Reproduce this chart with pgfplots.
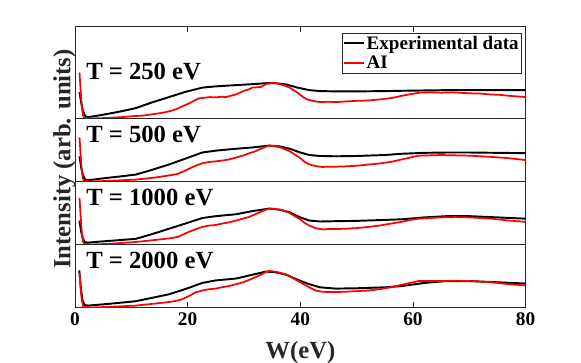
\documentclass[border=0pt]{standalone}
\usepackage{pgfplots}
\pgfplotsset{compat=1.18}
\usepackage{fontspec}
\setmainfont{Liberation Serif}
\definecolor{axgray}{RGB}{38,38,38}
\pgfplotsset{
  panel/.style={
    scale only axis, width=338pt, height=47.25pt,
    xmin=0, xmax=80, ymin=0, ymax=1,
    ytick=\empty, xtick=\empty,
    axis line style={axgray, line width=0.6pt},
    tick style={axgray, line width=0.5pt},
    major tick length=4pt,
    tick align=inside,
    anchor=south west,
    /pgf/number format/assume math mode=true,
    ticklabel style={font=\fontsize{14.5}{16}\selectfont\bfseries},
  },
  exp/.style={black, line width=1.45pt, line join=round},
  ai/.style={red, line width=1.3pt, line join=round},
}
\newcommand{\tlab}[1]{\node[anchor=base west, inner sep=0pt, font=\fontsize{18.5}{20}\selectfont\bfseries] at (axis cs:1.95,0.62) {#1};}
\begin{document}
\begin{tikzpicture}
% panel 1
\begin{axis}[panel, at={(56.25pt,183.375pt)}, height=69pt, ymax=1.46,
  xtick={0,20,40,60,80}, xtick pos=upper, xticklabels={},
  legend style={at={(0.9915,0.9326)}, anchor=north east, draw=axgray, line width=0.5pt,
    font=\fontsize{14.3}{16.5}\selectfont\bfseries, inner xsep=1pt, inner ysep=1pt,
    row sep=1.2pt, nodes={inner sep=1.1pt}},
  legend cell align=left,
  legend image code/.code={\draw[#1] (0pt,0pt) -- (15pt,0pt);},
]
\addplot[exp] coordinates {(0.8,0.42) (1.1,0.25) (1.4,0.12) (1.8,0.04) (2.3,0.02) (3,0.03) (5,0.06) (8,0.11) (10.8,0.165) (13.5,0.25) (16.7,0.34) (19.5,0.42) (22.6,0.49) (25,0.51) (28.6,0.53) (31.5,0.545) (33.9,0.56) (35.5,0.56) (37.5,0.54) (39.5,0.49) (41.6,0.45) (43.5,0.435) (46.3,0.43) (50,0.43) (55,0.435) (58.2,0.44) (62,0.445) (66,0.45) (70,0.45) (75,0.45) (80,0.45)};
\addlegendentry{Experimental data}
\addplot[ai] coordinates {(0.8,0.73) (1.0,0.45) (1.2,0.2) (1.4,0.06) (1.6,0.01) (3,0.0) (6,0.01) (8,0.02) (10.8,0.04) (12,0.045) (14,0.07) (15.5,0.09) (17,0.12) (18,0.15) (19,0.19) (20.5,0.25) (21.3,0.29) (22,0.32) (23,0.33) (24,0.34) (25,0.335) (26,0.345) (26.8,0.34) (27.6,0.36) (28.5,0.38) (29.3,0.41) (30,0.44) (30.8,0.46) (31.5,0.49) (32.3,0.495) (33,0.50) (33.6,0.53) (34,0.55) (34.6,0.555) (35.1,0.57) (35.8,0.56) (36.5,0.54) (37.3,0.52) (38.1,0.49) (38.8,0.45) (39.5,0.41) (40.5,0.34) (41.3,0.30) (42.2,0.28) (43.5,0.26) (45,0.265) (46.3,0.26) (48,0.27) (50,0.28) (52,0.285) (55,0.31) (56.5,0.33) (58,0.36) (59.5,0.385) (61.2,0.41) (63,0.415) (65,0.41) (67,0.415) (70,0.40) (72,0.395) (74,0.38) (75.5,0.375) (77,0.36) (78.5,0.35) (80,0.34)};
\addlegendentry{AI}
\tlab{T = 250 eV}
\end{axis}
% panel 2
\begin{axis}[panel, at={(56.25pt,136.125pt)}]
\addplot[exp] coordinates {(0.8,0.40) (1.1,0.22) (1.4,0.1) (1.8,0.03) (2.3,0.02) (5,0.05) (8,0.08) (10.8,0.11) (13.5,0.18) (16.7,0.27) (19.5,0.36) (22.6,0.46) (25,0.49) (28.6,0.52) (31.5,0.54) (34.5,0.57) (36.5,0.555) (38.1,0.52) (40,0.46) (41.6,0.42) (43.5,0.405) (46.3,0.40) (50,0.405) (55,0.42) (58,0.44) (62,0.455) (66,0.46) (70,0.46) (75,0.455) (80,0.45)};
\addplot[ai] coordinates {(0.8,0.70) (1.0,0.42) (1.2,0.18) (1.4,0.05) (1.6,0.01) (3,0.0) (6,0.01) (10.8,0.03) (14,0.06) (17,0.1) (18.2,0.12) (19,0.15) (20.2,0.2) (21.4,0.25) (22.6,0.29) (23.8,0.31) (25,0.32) (26,0.33) (27.3,0.35) (28.6,0.38) (29.8,0.41) (31,0.45) (32,0.48) (33,0.52) (33.8,0.55) (34.5,0.57) (35.5,0.56) (36.5,0.54) (37.3,0.51) (38.1,0.48) (39,0.43) (40,0.37) (40.8,0.31) (41.6,0.27) (42.7,0.245) (43.9,0.23) (45,0.235) (46.3,0.235) (48,0.24) (50,0.25) (52.2,0.27) (54,0.285) (56,0.31) (57,0.33) (58,0.35) (59.5,0.38) (61,0.41) (63,0.415) (65,0.42) (67.5,0.415) (70,0.41) (72,0.40) (74,0.39) (75.5,0.38) (77,0.37) (78.5,0.355) (80,0.34)};
\tlab{T = 500 eV}
\end{axis}
% panel 3
\begin{axis}[panel, at={(56.25pt,88.875pt)}]
\addplot[exp] coordinates {(0.8,0.38) (1.1,0.2) (1.4,0.09) (1.8,0.035) (2.3,0.03) (5,0.05) (8,0.07) (10.8,0.09) (13.5,0.16) (16.7,0.25) (19.5,0.33) (22.6,0.42) (25,0.45) (28.6,0.48) (31.5,0.53) (34.5,0.57) (36.5,0.55) (38.1,0.51) (40,0.43) (41.6,0.38) (43.5,0.365) (46.3,0.37) (50,0.375) (55,0.39) (58,0.40) (62,0.43) (66,0.45) (70,0.45) (75,0.43) (80,0.41)};
\addplot[ai] coordinates {(0.8,0.74) (1.0,0.45) (1.2,0.2) (1.4,0.05) (1.6,0.01) (3,0.0) (6,0.01) (10.8,0.04) (14,0.07) (17,0.1) (18.2,0.12) (19,0.15) (20.2,0.2) (21.4,0.24) (22.6,0.28) (23.8,0.30) (25,0.31) (26,0.33) (27.3,0.35) (28.6,0.38) (29.8,0.41) (31,0.44) (32,0.48) (33,0.52) (33.8,0.55) (34.5,0.57) (35.5,0.565) (36.5,0.55) (37.3,0.53) (38.1,0.50) (39,0.45) (40,0.40) (40.8,0.34) (41.6,0.30) (42.7,0.26) (43.9,0.24) (45,0.245) (46.3,0.245) (48,0.25) (50,0.26) (52.2,0.28) (54,0.30) (56,0.33) (57,0.345) (58,0.36) (59.5,0.39) (61,0.41) (63,0.42) (65,0.43) (67.5,0.435) (70,0.43) (72,0.42) (74,0.41) (75.5,0.395) (77,0.38) (78.5,0.37) (80,0.36)};
\tlab{T = 1000 eV}
\end{axis}
% panel 4
\begin{axis}[panel, at={(56.25pt,41.625pt)},
  xtick={0,20,40,60,80}, xtick pos=lower, xticklabel pos=lower]
\addplot[exp] coordinates {(0.75,0.59) (1.0,0.35) (1.3,0.12) (1.7,0.04) (2.3,0.03) (5,0.05) (8,0.075) (10.8,0.10) (13.5,0.15) (16.7,0.21) (19.5,0.29) (22.6,0.39) (25,0.43) (28.6,0.46) (31.5,0.52) (33.9,0.57) (35.5,0.56) (37.5,0.52) (39.5,0.44) (41.6,0.37) (43.5,0.32) (46.3,0.30) (50,0.305) (55,0.32) (58,0.34) (62,0.39) (66,0.42) (70,0.42) (75,0.40) (80,0.38)};
\addplot[ai] coordinates {(0.8,0.55) (1.0,0.3) (1.2,0.12) (1.4,0.03) (1.6,0.01) (3,0.0) (6,0.01) (10.8,0.03) (14,0.06) (17,0.09) (18.2,0.11) (19,0.13) (20.2,0.18) (21.4,0.24) (22.6,0.27) (23.8,0.29) (25,0.30) (26,0.32) (27.3,0.34) (28.6,0.37) (29.8,0.40) (31,0.44) (32,0.48) (33,0.52) (33.8,0.56) (34.5,0.58) (35.5,0.57) (36.5,0.55) (37.3,0.53) (38.1,0.50) (39,0.45) (40,0.40) (40.8,0.36) (41.6,0.32) (42.7,0.27) (43.9,0.25) (45,0.245) (46.3,0.245) (48,0.25) (50,0.26) (52.2,0.27) (54,0.29) (56,0.32) (57,0.34) (58,0.36) (59.5,0.39) (61,0.42) (63,0.42) (65,0.42) (67.5,0.425) (70,0.42) (72,0.41) (74,0.40) (75.5,0.385) (77,0.37) (78.5,0.36) (80,0.35)};
\tlab{T = 2000 eV}
\end{axis}
\node[rotate=90, anchor=base, inner sep=0pt, font=\fontsize{18.5}{20}\selectfont\bfseries, text=axgray] at (52.8pt,153pt) {Intensity (arb. units)};
\node[anchor=base, inner sep=0pt, font=\fontsize{18.5}{20}\selectfont\bfseries, text=axgray] at (225.3pt,3.5pt) {W(eV)};
\pgfresetboundingbox
\path (0,0) rectangle (435.75pt,272.25pt);
\end{tikzpicture}
\end{document}
